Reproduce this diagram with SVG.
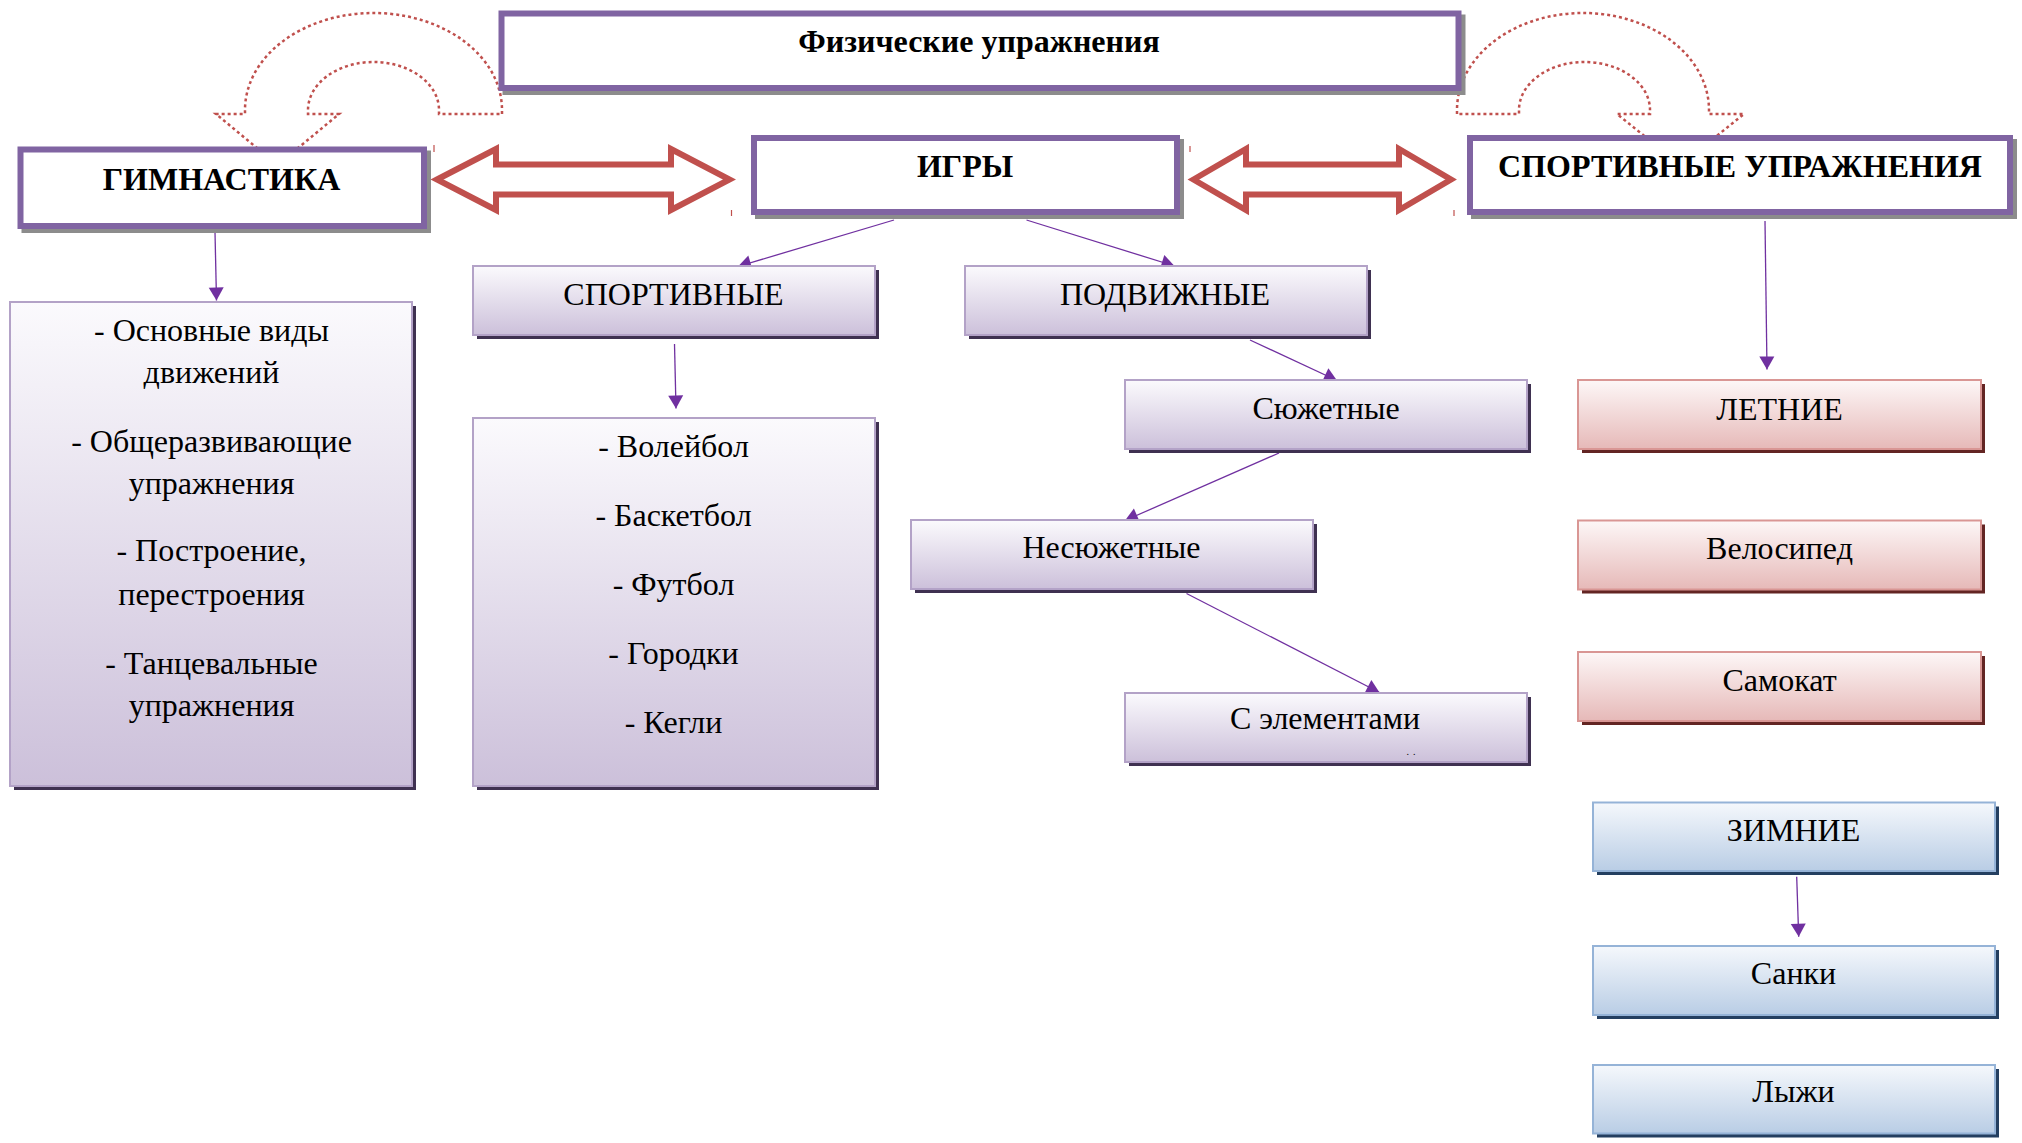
<svg xmlns="http://www.w3.org/2000/svg" width="2022" height="1143" viewBox="0 0 2022 1143">
<style>
.top{fill:#fff;stroke:#8064A2;stroke-width:6}
.topsh{fill:#8C8C8C}
.pbox{fill:url(#gp);stroke:#B3A2C7;stroke-width:2}
.psh{fill:#3F3151}
.rbox{fill:url(#gr);stroke:#D99694;stroke-width:2}
.rsh{fill:#632523}
.bbox{fill:url(#gb);stroke:#95B3D7;stroke-width:2}
.bsh{fill:#243F60}
.tb{font-family:"Liberation Serif","Times New Roman",serif;font-weight:bold;font-size:32px;text-anchor:middle;fill:#000}
.t{font-family:"Liberation Serif","Times New Roman",serif;font-size:32px;text-anchor:middle;fill:#000}
.dots{font-family:"Liberation Serif","Times New Roman",serif;font-size:10px;letter-spacing:4px;text-anchor:middle;fill:#000}
.conn{stroke:#7030A0;stroke-width:1.3;fill:none;marker-end:url(#ah)}
.dbl{fill:#fff;stroke:#C0504D;stroke-width:6;stroke-linejoin:miter}
.ut{fill:none;stroke:#C0504D;stroke-width:2.5;stroke-dasharray:3 3}
.tick{stroke:#C0504D;stroke-width:1.2}
</style>
<defs>
<linearGradient id="gp" x1="0" y1="0" x2="0" y2="1"><stop offset="0" stop-color="#FBFAFD"/><stop offset="1" stop-color="#CCC0DA"/></linearGradient>
<linearGradient id="gr" x1="0" y1="0" x2="0" y2="1"><stop offset="0" stop-color="#FDF7F7"/><stop offset="1" stop-color="#E6B9B8"/></linearGradient>
<linearGradient id="gb" x1="0" y1="0" x2="0" y2="1"><stop offset="0" stop-color="#F5F8FC"/><stop offset="1" stop-color="#B9CDE5"/></linearGradient>
<marker id="ah" markerUnits="userSpaceOnUse" markerWidth="15" markerHeight="15" refX="13" refY="7.5" orient="auto" overflow="visible"><path d="M0,0 L13,7.5 L0,15 Z" fill="#7030A0"/></marker>
</defs>
<rect width="2022" height="1143" fill="#fff"/>

<g id="connectors">
  <path class="ut" d="M502,114 L502,110 A128.5 97 0 0 0 245,110 L245,114 L216,114 L277.5,165 L339,114 L308,114 L308,110 A65.5 48 0 0 1 439,110 L439,114 Z"/>
  <path class="ut" d="M1457,114 L1457,110 A126 97 0 0 1 1709,110 L1709,114 L1744,114 L1680.5,165 L1617,114 L1650,114 L1650,110 A65.5 48 0 0 0 1519,110 L1519,114 Z"/>
  <path class="dbl" d="M437,179.5 L496,149 L496,164.5 L671,164.5 L671,149 L729.5,179.5 L671,210 L671,194.5 L496,194.5 L496,210 Z"/>
  <path class="dbl" d="M1193.5,179.5 L1246,149 L1246,164.5 L1399,164.5 L1399,149 L1451,179.5 L1399,210 L1399,194.5 L1246,194.5 L1246,210 Z"/>
  <line class="tick" x1="434" y1="145" x2="434" y2="152"/>
  <line class="tick" x1="731.5" y1="210" x2="731.5" y2="216"/>
  <line class="tick" x1="1190" y1="146" x2="1190" y2="152"/>
  <line class="tick" x1="1454" y1="210" x2="1454" y2="216"/>
  <path class="conn" d="M215,232 L216.5,300.5"/>
  <path class="conn" d="M894,220 L738,266.5"/>
  <path class="conn" d="M1026.5,220 L1174.5,266"/>
  <path class="conn" d="M674.5,344 L676,408.5"/>
  <path class="conn" d="M1250,340 L1337,380.5"/>
  <path class="conn" d="M1279,453 L1125,520.5"/>
  <path class="conn" d="M1186.5,593.5 L1379.5,692.5"/>
  <path class="conn" d="M1765,221 L1767,369.5"/>
  <path class="conn" d="M1796.7,876.7 L1798.7,936.7"/>
</g>

<g id="node-fiz">
  <rect class="topsh" x="502.5" y="14.5" width="963" height="80.5"/>
  <rect class="top" x="501.5" y="13.5" width="957" height="74.5"/>
  <text class="tb" x="979" y="52">Физические упражнения</text>
</g>
<g id="node-gim">
  <rect class="topsh" x="21.5" y="150.5" width="409.5" height="82.5"/>
  <rect class="top" x="20.5" y="149.5" width="403.5" height="76.5"/>
  <text class="tb" x="221.5" y="189.5">ГИМНАСТИКА</text>
</g>
<g id="node-igry">
  <rect class="topsh" x="755" y="139" width="429" height="80"/>
  <rect class="top" x="754" y="138" width="423" height="74"/>
  <text class="tb" x="965" y="177">ИГРЫ</text>
</g>
<g id="node-sportupr">
  <rect class="topsh" x="1471" y="139" width="546" height="80"/>
  <rect class="top" x="1470" y="138" width="540" height="74"/>
  <text class="tb" x="1740" y="177">СПОРТИВНЫЕ УПРАЖНЕНИЯ</text>
</g>

<g id="node-gim-list">
  <rect class="psh" x="14" y="306" width="402" height="484"/>
  <rect class="pbox" x="10" y="302" width="402" height="484"/>
  <text class="t" x="211.5" y="340.5">- Основные виды</text>
  <text class="t" x="211.5" y="383">движений</text>
  <text class="t" x="211.5" y="451.5">- Общеразвивающие</text>
  <text class="t" x="211.5" y="494">упражнения</text>
  <text class="t" x="211.5" y="560.5">- Построение,</text>
  <text class="t" x="211.5" y="605">перестроения</text>
  <text class="t" x="211.5" y="673.5">- Танцевальные</text>
  <text class="t" x="211.5" y="716">упражнения</text>
</g>
<g id="node-sport">
  <rect class="psh" x="477" y="270" width="402" height="69"/>
  <rect class="pbox" x="473" y="266" width="402" height="69"/>
  <text class="t" x="673.5" y="305">СПОРТИВНЫЕ</text>
</g>
<g id="node-sport-list">
  <rect class="psh" x="477" y="422" width="402" height="368"/>
  <rect class="pbox" x="473" y="418" width="402" height="368"/>
  <text class="t" x="673.5" y="456.5">- Волейбол</text>
  <text class="t" x="673.5" y="525.5">- Баскетбол</text>
  <text class="t" x="673.5" y="595">- Футбол</text>
  <text class="t" x="673.5" y="664">- Городки</text>
  <text class="t" x="673.5" y="733">- Кегли</text>
</g>
<g id="node-podv">
  <rect class="psh" x="969" y="270" width="402" height="69"/>
  <rect class="pbox" x="965" y="266" width="402" height="69"/>
  <text class="t" x="1165" y="305">ПОДВИЖНЫЕ</text>
</g>
<g id="node-syuzh">
  <rect class="psh" x="1129" y="384" width="402" height="69"/>
  <rect class="pbox" x="1125" y="380" width="402" height="69"/>
  <text class="t" x="1326" y="419">Сюжетные</text>
</g>
<g id="node-nesyuzh">
  <rect class="psh" x="915" y="524" width="402" height="69"/>
  <rect class="pbox" x="911" y="520" width="402" height="69"/>
  <text class="t" x="1111.5" y="558">Несюжетные</text>
</g>
<g id="node-elem">
  <rect class="psh" x="1129" y="697" width="402" height="69"/>
  <rect class="pbox" x="1125" y="693" width="402" height="69"/>
  <text class="t" x="1325" y="729">С элементами</text>
  <text class="dots" x="1413" y="755">..</text>
</g>

<g id="node-letnie">
  <rect class="rsh" x="1582" y="384" width="403" height="69"/>
  <rect class="rbox" x="1578" y="380" width="403" height="69"/>
  <text class="t" x="1779.5" y="419.5">ЛЕТНИЕ</text>
</g>
<g id="node-velo">
  <rect class="rsh" x="1582" y="524.5" width="403" height="69"/>
  <rect class="rbox" x="1578" y="520.5" width="403" height="69"/>
  <text class="t" x="1779.5" y="558.5">Велосипед</text>
</g>
<g id="node-samokat">
  <rect class="rsh" x="1582" y="656" width="403" height="69"/>
  <rect class="rbox" x="1578" y="652" width="403" height="69"/>
  <text class="t" x="1779.5" y="690.5">Самокат</text>
</g>
<g id="node-zimnie">
  <rect class="bsh" x="1597" y="806.5" width="402" height="68.5"/>
  <rect class="bbox" x="1593" y="802.5" width="402" height="68.5"/>
  <text class="t" x="1793.5" y="840.5">ЗИМНИЕ</text>
</g>
<g id="node-sanki">
  <rect class="bsh" x="1597" y="950" width="402" height="69"/>
  <rect class="bbox" x="1593" y="946" width="402" height="69"/>
  <text class="t" x="1793.5" y="983.5">Санки</text>
</g>
<g id="node-lyzhi">
  <rect class="bsh" x="1597" y="1069" width="402" height="68.5"/>
  <rect class="bbox" x="1593" y="1065" width="402" height="68.5"/>
  <text class="t" x="1793.5" y="1102">Лыжи</text>
</g>
</svg>
